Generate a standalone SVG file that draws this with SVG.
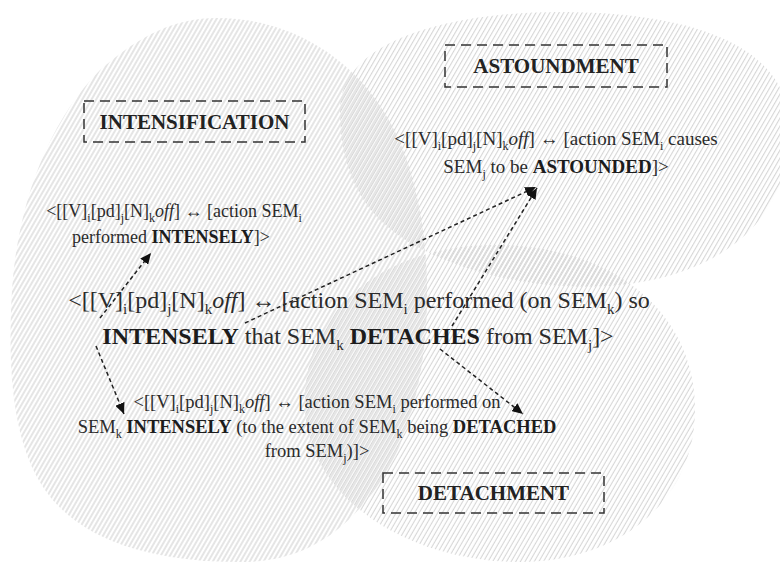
<svg xmlns="http://www.w3.org/2000/svg" width="780" height="565" viewBox="0 0 780 565">
<style>
.t{font-family:"Liberation Serif","DejaVu Serif",serif;fill:#2b2b2b;text-anchor:middle}
.b{font-weight:bold;fill:#1c1c1c}
.it{font-style:italic}
.lbl{font-family:"Liberation Serif","DejaVu Serif",serif;font-weight:bold;font-size:21px;text-anchor:middle;fill:#222}
.box{fill:none;stroke:#333;stroke-width:1.5;stroke-dasharray:10 6}
.conn{fill:none;stroke:#222;stroke-width:1.5;stroke-dasharray:4 3;marker-end:url(#ah)}
</style>
<defs>
<pattern id="h1" patternUnits="userSpaceOnUse" width="4" height="4" patternTransform="rotate(30)"><line x1="1" y1="0" x2="1" y2="4" stroke="#cbcbcb" stroke-width="1"/></pattern>
<pattern id="h2" patternUnits="userSpaceOnUse" width="4" height="4" patternTransform="rotate(30)"><line x1="2.6" y1="0" x2="2.6" y2="4" stroke="#d2d2d2" stroke-width="1"/></pattern>
<pattern id="h3" patternUnits="userSpaceOnUse" width="4" height="4" patternTransform="rotate(30)"><line x1="3.4" y1="0" x2="3.4" y2="4" stroke="#d2d2d2" stroke-width="1"/></pattern>
<marker id="ah" markerUnits="userSpaceOnUse" markerWidth="11" markerHeight="10" refX="11" refY="5" orient="auto"><path d="M0,0 L11,5 L0,10 Z" fill="#111" stroke="none"/></marker>
</defs>
<rect width="780" height="565" fill="#fff"/>
<g id="background">
<path d="M217,18 C300,18 380,70 410,170 C440,270 430,400 385,475 C340,545 290,562 240,562 C150,562 80,540 45,490 C10,440 8,360 12,290 C18,200 50,120 100,70 C140,35 175,18 217,18 Z" fill="url(#h1)"/>
<path d="M340,110 C340,40 450,12 560,12 C680,12 790,40 790,130 C790,220 720,275 620,285 C520,295 420,260 380,220 C350,190 340,150 340,110 Z" fill="url(#h2)"/>
<path d="M495,245 C610,245 695,310 695,410 C695,500 620,562 520,562 C410,562 310,500 305,410 C300,315 380,245 495,245 Z" fill="url(#h3)"/>
</g>
<g id="connectors">
<line class="conn" x1="100" y1="318" x2="151" y2="253"/>
<line class="conn" x1="96" y1="346" x2="124" y2="414"/>
<line class="conn" x1="245" y1="323" x2="536" y2="187"/>
<line class="conn" x1="452" y1="326" x2="537" y2="188"/>
<line class="conn" x1="440" y1="349" x2="523" y2="414"/>
</g>
<g id="intensification">
<rect class="box" x="84" y="101" width="221" height="41"/>
<text class="lbl" x="194.5" y="129">INTENSIFICATION</text>
</g>
<g id="astoundment">
<rect class="box" x="445" y="45" width="222" height="42"/>
<text class="lbl" x="556" y="73">ASTOUNDMENT</text>
</g>
<g id="detachment">
<rect class="box" x="383" y="473" width="221" height="40"/>
<text class="lbl" x="493.5" y="500">DETACHMENT</text>
</g>
<g id="astounded-construction">
<text class="t" x="556" y="145" font-size="19">&lt;[[V]<tspan dy="5" font-size="12">i</tspan><tspan dy="-5">[pd]</tspan><tspan dy="5" font-size="12">j</tspan><tspan dy="-5">[N]</tspan><tspan dy="5" font-size="12">k</tspan><tspan dy="-5" class="it">off</tspan>] ↔ [action SEM<tspan dy="5" font-size="12">i</tspan><tspan dy="-5"> causes</tspan></text>
<text class="t" x="556" y="173" font-size="19">SEM<tspan dy="5" font-size="12">j</tspan><tspan dy="-5"> to be </tspan><tspan class="b">ASTOUNDED</tspan>]&gt;</text>
</g>
<g id="intensely-construction">
<text class="t" x="174" y="217" font-size="18">&lt;[[V]<tspan dy="5" font-size="12">i</tspan><tspan dy="-5">[pd]</tspan><tspan dy="5" font-size="12">j</tspan><tspan dy="-5">[N]</tspan><tspan dy="5" font-size="12">k</tspan><tspan dy="-5" class="it">off</tspan>] ↔ [action SEM<tspan dy="5" font-size="12">i</tspan></text>
<text class="t" x="171" y="243" font-size="18">performed <tspan class="b">INTENSELY</tspan>]&gt;</text>
</g>
<g id="main-construction">
<text class="t" x="359" y="308" font-size="24">&lt;[[V]<tspan dy="6" font-size="15">i</tspan><tspan dy="-6">[pd]</tspan><tspan dy="6" font-size="15">j</tspan><tspan dy="-6">[N]</tspan><tspan dy="6" font-size="15">k</tspan><tspan dy="-6" class="it">off</tspan>] ↔ [action SEM<tspan dy="6" font-size="15">i</tspan><tspan dy="-6"> performed (on SEM</tspan><tspan dy="6" font-size="15">k</tspan><tspan dy="-6">) so</tspan></text>
<text class="t" x="358" y="344" font-size="24"><tspan class="b">INTENSELY</tspan> that SEM<tspan dy="6" font-size="15">k</tspan><tspan dy="-6"> </tspan><tspan class="b">DETACHES</tspan> from SEM<tspan dy="6" font-size="15">j</tspan><tspan dy="-6">]&gt;</tspan></text>
</g>
<g id="detached-construction">
<text class="t" x="317" y="408" font-size="18.5">&lt;[[V]<tspan dy="5" font-size="12">i</tspan><tspan dy="-5">[pd]</tspan><tspan dy="5" font-size="12">j</tspan><tspan dy="-5">[N]</tspan><tspan dy="5" font-size="12">k</tspan><tspan dy="-5" class="it">off</tspan>] ↔ [action SEM<tspan dy="5" font-size="12">i</tspan><tspan dy="-5"> performed on</tspan></text>
<text class="t" x="317" y="433" font-size="18.5">SEM<tspan dy="5" font-size="12">k</tspan><tspan dy="-5"> </tspan><tspan class="b">INTENSELY</tspan> (to the extent of SEM<tspan dy="5" font-size="12">k</tspan><tspan dy="-5"> being </tspan><tspan class="b">DETACHED</tspan></text>
<text class="t" x="317" y="457" font-size="18.5">from SEM<tspan dy="5" font-size="12">j</tspan><tspan dy="-5">)]&gt;</tspan></text>
</g>
</svg>
